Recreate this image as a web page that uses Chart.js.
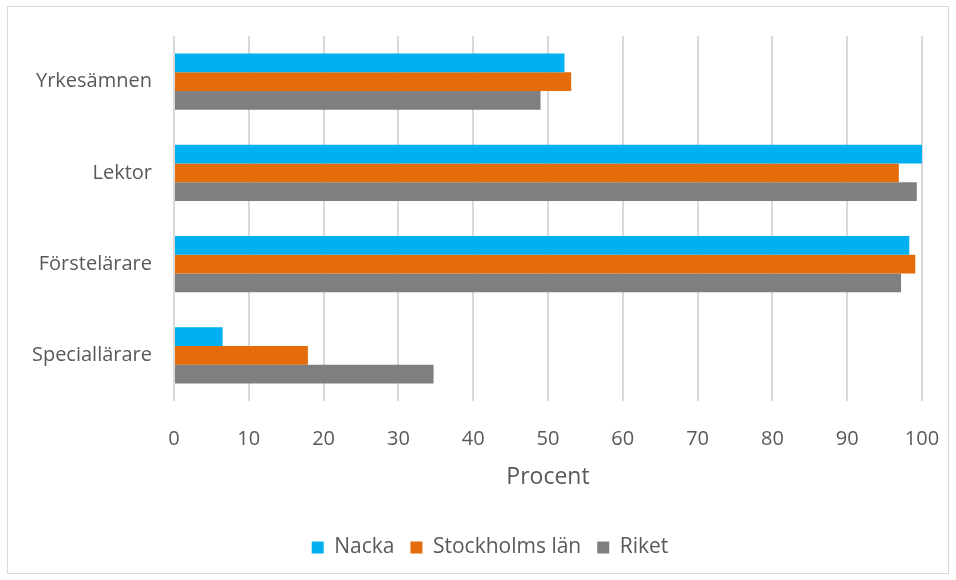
<!DOCTYPE html>
<html><head><meta charset="utf-8">
<script src="https://cdn.jsdelivr.net/npm/chart.js@4/dist/chart.umd.min.js"></script>
<style>
html,body{margin:0;padding:0;background:#fff;}
#frame{position:absolute;left:7px;top:6px;width:942px;height:568px;border:1px solid #d9d9d9;box-sizing:border-box;}
#wrap{position:absolute;left:0;top:0;width:956px;height:580px;}
</style></head><body>
<div id="frame"></div>
<div id="wrap"><canvas id="c" width="956" height="580"></canvas></div>
<script>
const categories = ["Yrkesämnen", "Lektor", "Förstelärare", "Speciallärare"];
const nacka = [52.2, 100, 98.3, 6.5];
const stockholm = [53.1, 96.9, 99.1, 17.9];
const riket = [49.0, 99.3, 97.2, 34.7];
const seriesNames = ["Nacka", "Stockholms län", "Riket"];
const xTicks = [0,10,20,30,40,50,60,70,80,90,100];
const FONT = "'Open Sans', sans-serif";
const shiftLegend = {
  id: 'shiftLegend',
  beforeDraw(chart) {
    const lg = chart.legend;
    if (lg && !lg._shifted) { lg.left += 29; lg.right += 29; lg._shifted = true; }
  },
  afterLayout(chart) { if (chart.legend) chart.legend._shifted = false; }
};
new Chart(document.getElementById('c'), {
  type: 'bar',
  data: {
    labels: categories,
    datasets: [
      {label: seriesNames[0], data: nacka, backgroundColor: '#00B0F0'},
      {label: seriesNames[1], data: stockholm, backgroundColor: '#E46C0A'},
      {label: seriesNames[2], data: riket, backgroundColor: '#7F7F7F'}
    ]
  },
  plugins: [shiftLegend],
  options: {
    indexAxis: 'y',
    responsive: false,
    animation: false,
    devicePixelRatio: 1,
    datasets: {bar: {categoryPercentage: 0.615, barPercentage: 1.0, borderWidth: 0}},
    layout: {padding: {left: 0, right: 34, top: 36, bottom: 12}},
    scales: {
      x: {
        min: 0, max: 100,
        afterBuildTicks: s => { s.ticks = xTicks.map(v => ({value: v})); },
        grid: {color: '#d9d9d9', lineWidth: 2, drawTicks: false},
        border: {display: false},
        ticks: {color: '#595959', font: {family: FONT, size: 20}, padding: 26},
        title: {display: true, text: 'Procent', color: '#595959', font: {family: FONT, size: 23}, padding: {top: 8, bottom: 30}},
        afterFit: s => { s.height = 120; s.paddingLeft = 0; s.paddingRight = 0; }
      },
      y: {
        grid: {display: false, drawTicks: false},
        border: {display: false},
        ticks: {color: '#595959', font: {family: FONT, size: 20}, padding: 22},
        afterFit: s => { s.width = 174; s.paddingTop = 0; s.paddingBottom = 0; }
      }
    },
    plugins: {
      legend: {
        position: 'bottom',
        labels: {color: '#595959', font: {family: FONT, size: 21}, boxWidth: 12, boxHeight: 12, padding: 16}
      },
      tooltip: {enabled: false}
    }
  }
});
</script>
</body></html>
